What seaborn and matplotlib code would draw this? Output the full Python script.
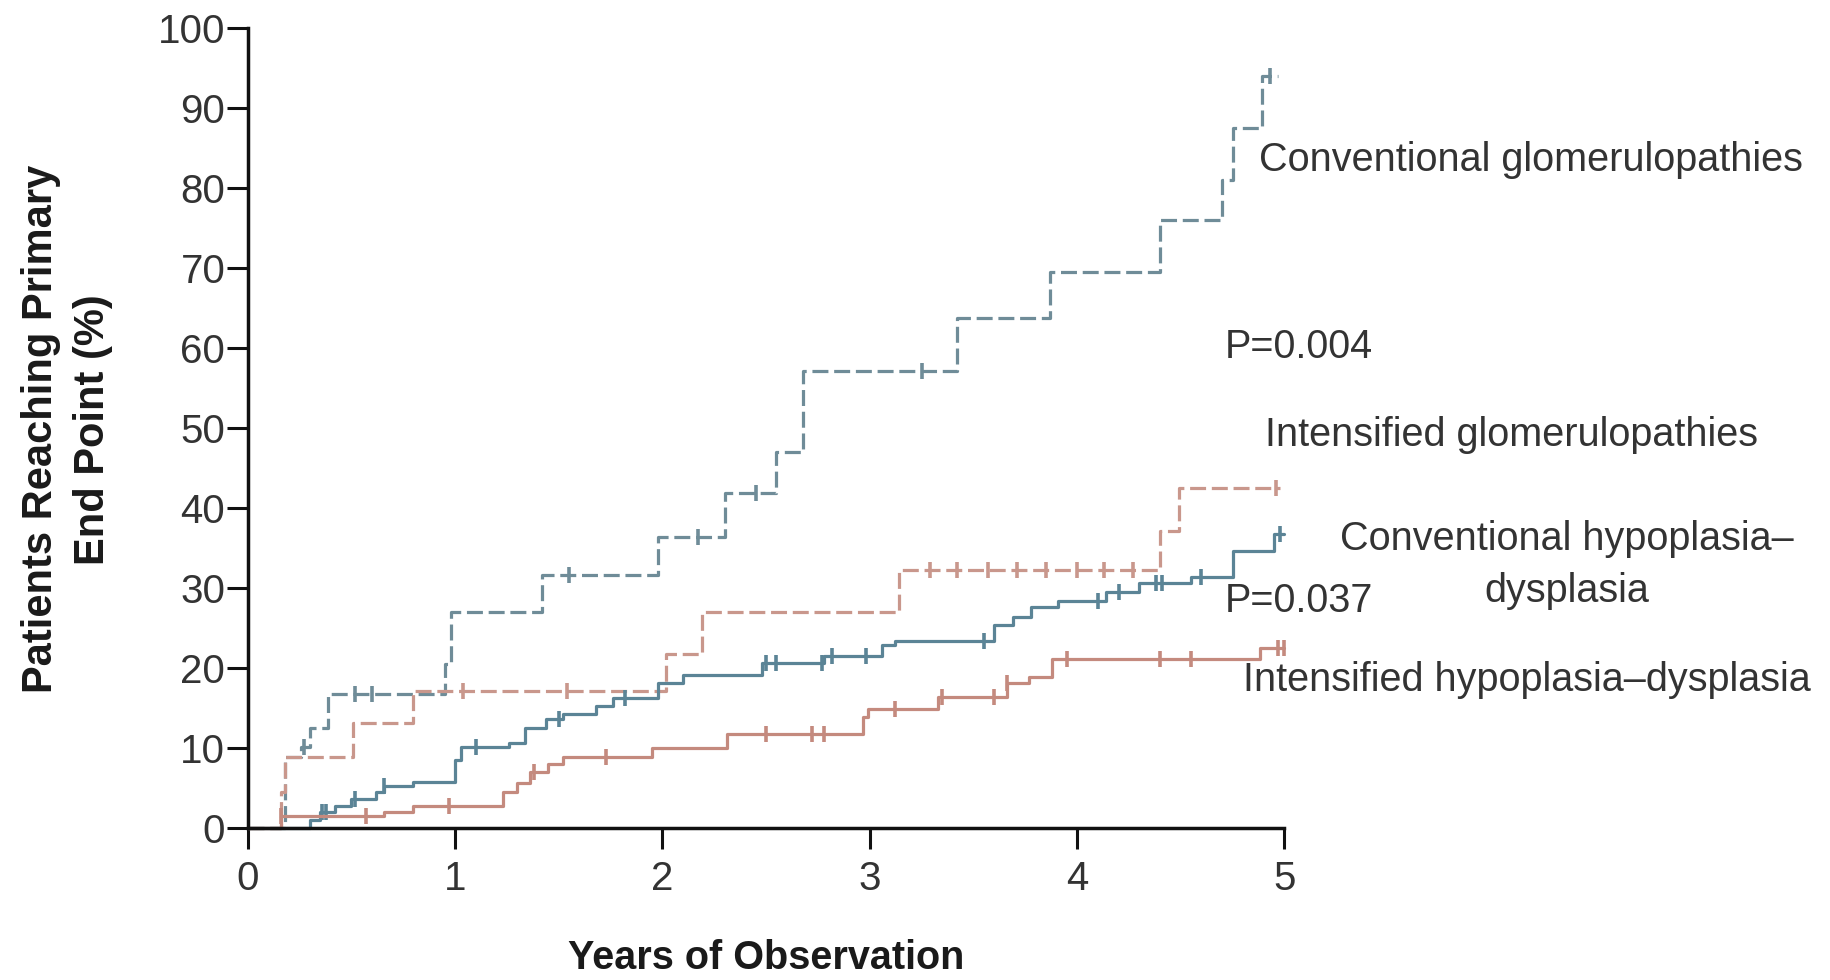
import numpy as np
import pandas as pd
import matplotlib
matplotlib.use("Agg")
import matplotlib.pyplot as plt
import seaborn as sns

# step curves: event times (years) and cumulative % reaching end point
conv_glom_t = [0, 0.18, 0.26, 0.30, 0.39, 0.95, 0.98, 1.42, 1.98, 2.30, 2.55, 2.68,
               3.42, 3.87, 4.40, 4.70, 4.75, 4.89, 4.97]
conv_glom_v = [0, 8.9, 10.2, 12.5, 16.8, 20.5, 27.0, 31.7, 36.4, 41.9, 47.0, 57.2,
               63.8, 69.6, 76.0, 81.0, 87.5, 94.0, 94.0]

int_glom_t = [0, 0.16, 0.18, 0.51, 0.80, 2.02, 2.19, 3.14, 4.40, 4.49, 4.98]
int_glom_v = [0, 4.5, 8.9, 13.2, 17.2, 21.8, 27.0, 32.3, 37.2, 42.5, 42.5]

conv_hypo_t = [0, 0.30, 0.35, 0.42, 0.50, 0.62, 0.66, 0.80, 1.00, 1.03, 1.26, 1.34,
               1.44, 1.52, 1.68, 1.76, 1.98, 2.10, 2.48, 2.78, 3.06, 3.12, 3.60,
               3.69, 3.78, 3.91, 4.14, 4.30, 4.55, 4.75, 4.95, 5.00]
conv_hypo_v = [0, 1.0, 2.0, 2.8, 3.6, 4.5, 5.3, 5.8, 8.5, 10.1, 10.6, 12.5,
               13.6, 14.3, 15.3, 16.3, 18.2, 19.2, 20.6, 21.5, 22.9, 23.4, 25.4,
               26.4, 27.7, 28.4, 29.5, 30.6, 31.4, 34.7, 36.8, 36.8]

int_hypo_t = [0, 0.16, 0.66, 0.80, 1.23, 1.30, 1.36, 1.45, 1.52, 1.95, 2.31, 2.97,
              2.99, 3.33, 3.66, 3.77, 3.88, 4.88, 5.00]
int_hypo_v = [0, 1.5, 2.0, 2.8, 4.5, 5.7, 7.0, 8.0, 8.9, 10.0, 11.8, 13.9,
              14.9, 16.4, 18.1, 18.9, 21.2, 22.5, 22.5]

# censoring times (tick marks on the curves)
conv_glom_cens = [0.27, 0.52, 0.60, 1.55, 2.17, 2.45, 3.25, 4.93]
int_glom_cens = [1.04, 1.54, 3.29, 3.42, 3.57, 3.71, 3.85, 4.00, 4.13, 4.27, 4.96]
conv_hypo_cens = [0.36, 0.38, 0.52, 0.66, 1.10, 1.50, 1.82, 2.50, 2.55, 2.77, 2.82,
                  2.98, 3.55, 4.10, 4.20, 4.38, 4.41, 4.60, 4.98]
int_hypo_cens = [0.16, 0.57, 0.97, 1.38, 1.73, 2.50, 2.72, 2.78, 3.12, 3.35, 3.60,
                 3.66, 3.95, 4.40, 4.55, 4.97, 5.00]

x_ticks = [0, 1, 2, 3, 4, 5]
y_ticks = list(range(0, 101, 10))

BLUE = "#5b8496"
BLUE_D = "#6f8c98"
RED = "#c48a7e"
RED_D = "#c9978c"
TXT = "#333333"

sns.set_style("ticks")
plt.rcParams["font.family"] = ["Liberation Sans", "DejaVu Sans"]


def step_at(times, vals, t):
    idx = np.searchsorted(times, t, side="right") - 1
    return np.asarray(vals)[idx]


fig = plt.figure(figsize=(18.31, 9.80), dpi=100)
ax = fig.add_axes([0.1352, 0.155, 0.5663, 0.816])

series = [
    (conv_glom_t, conv_glom_v, conv_glom_cens, BLUE_D, (0, (5, 1.8))),
    (int_glom_t, int_glom_v, int_glom_cens, RED_D, (0, (5, 1.8))),
    (conv_hypo_t, conv_hypo_v, conv_hypo_cens, BLUE, "-"),
    (int_hypo_t, int_hypo_v, int_hypo_cens, RED, "-"),
]

for t, v, cens, col, ls in series:
    df = pd.DataFrame({"t": t, "v": v})
    sns.lineplot(data=df, x="t", y="v", ax=ax, color=col, linewidth=2.3,
                 linestyle=ls, drawstyle="steps-post", estimator=None,
                 clip_on=False)
    cy = step_at(t, v, cens)
    ax.plot(cens, cy, linestyle="none", marker="|", markersize=11,
            markeredgewidth=2.6, color=col, clip_on=False)

ax.set_xlim(0, 5)
ax.set_ylim(0, 100)
ax.set_xticks(x_ticks)
ax.set_yticks(y_ticks)
ax.set_xticklabels([str(x) for x in x_ticks])
ax.set_yticklabels([str(y) for y in y_ticks])
ax.tick_params(axis="both", direction="out", length=15, width=2.2,
               color="#111111", labelsize=29, labelcolor=TXT)
ax.tick_params(axis="y", pad=1)
ax.tick_params(axis="x", pad=8)
for side in ["top", "right"]:
    ax.spines[side].set_visible(False)
for side in ["left", "bottom"]:
    ax.spines[side].set_linewidth(2.5)
    ax.spines[side].set_color("#111111")

ax.set_xlabel("")
ax.set_ylabel("")
fig.text(0.4184, 0.022, "Years of Observation", ha="center", va="center",
         fontsize=28.5, fontweight="bold", color="#1a1a1a")
fig.text(0.0224, 0.562, "Patients Reaching Primary", ha="center",
         va="center", rotation=90, fontsize=30, fontweight="bold",
         color="#1a1a1a")
fig.text(0.0508, 0.562, "End Point (%)", ha="center",
         va="center", rotation=90, fontsize=30, fontweight="bold",
         color="#1a1a1a")

lab = dict(fontsize=28.5, color=TXT, va="center", clip_on=False)
ax.text(4.877, 83.5, "Conventional glomerulopathies", ha="left", **lab)
ax.text(4.71, 60.1, "P=0.004", ha="left", **lab)
ax.text(4.905, 49.2, "Intensified glomerulopathies", ha="left", **lab)
ax.text(6.36, 36.2, "Conventional hypoplasia\u2013", ha="center", **lab)
ax.text(6.36, 29.6, "dysplasia", ha="center", **lab)
ax.text(4.71, 28.4, "P=0.037", ha="left", **lab)
ax.text(4.80, 18.5, "Intensified hypoplasia\u2013dysplasia", ha="left", **lab)

fig.savefig("out.png", dpi=100, facecolor="white")
